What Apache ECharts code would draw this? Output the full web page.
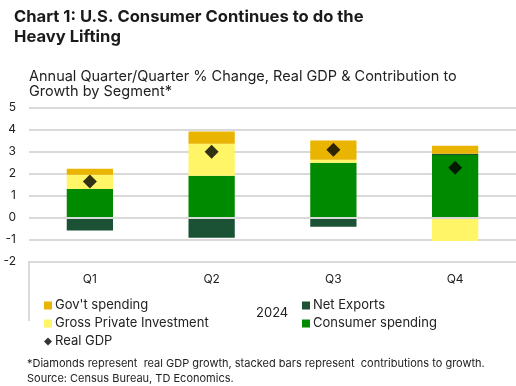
<!DOCTYPE html>
<html>
<head>
<meta charset="utf-8">
<script src="https://cdn.jsdelivr.net/npm/echarts@6/dist/echarts.min.js"></script>
<style>html,body{margin:0;padding:0;background:#fff;}#c{width:516px;height:386px;}</style>
</head>
<body>
<div id="c"></div>
<script>
const categories = ['Q1', 'Q2', 'Q3', 'Q4'];
const consumer = [1.30, 1.90, 2.49, 2.84];
const grossPrivate = [0.64, 1.45, 0.13, -1.06];
const netExports = [-0.59, -0.91, -0.42, 0.05];
const govSpending = [0.27, 0.55, 0.87, 0.37];
const realGDP = [1.64, 2.99, 3.08, 2.26];
const yTicks = { min: -2, max: 5, interval: 1 };

const FONT = 'Inter';
const chart = echarts.init(document.getElementById('c'), null, { renderer: 'canvas' });
const barCommon = { type: 'bar', stack: 'total', barWidth: '38%', stackStrategy: 'samesign' };
chart.setOption({
  animation: false,
  textStyle: { fontFamily: FONT },
  title: [
    { text: 'Chart 1: U.S. Consumer Continues to do the\nHeavy Lifting', left: 14, top: 7, padding: 0,
      textStyle: { fontFamily: FONT, fontSize: 16.6, fontWeight: 'bold', color: '#1a1a1a', lineHeight: 20 } },
    { text: 'Annual Quarter/Quarter % Change, Real GDP & Contribution to\nGrowth by Segment*', left: 29, top: 69, padding: 0,
      textStyle: { fontFamily: FONT, fontSize: 14.5, fontWeight: 'normal', color: '#222', lineHeight: 15 } },
    { text: '*Diamonds represent  real GDP growth, stacked bars represent  contributions to growth.\nSource: Census Bureau, TD Economics.', left: 27, top: 356, padding: 0,
      textStyle: { fontFamily: FONT, fontSize: 11, fontWeight: 'normal', color: '#222', lineHeight: 15 } }
  ],
  grid: { left: 29, right: 0, top: 107.3, bottom: 124.3, containLabel: false },
  xAxis: {
    type: 'category', data: categories,
    axisLine: { onZero: false, lineStyle: { color: '#d9d9d9', width: 2 } },
    axisTick: { show: false },
    axisLabel: { color: '#222', fontSize: 12, fontFamily: FONT, margin: 12 }
  },
  yAxis: {
    type: 'value', min: yTicks.min, max: yTicks.max, interval: yTicks.interval,
    axisLine: { show: false }, axisTick: { show: false },
    axisLabel: { color: '#222', fontSize: 12, fontFamily: FONT, margin: 13 },
    splitLine: { lineStyle: { color: '#d9d9d9', width: 2 } }
  },
  legend: [
    { left: 44, top: 298.5, padding: 0, orient: 'vertical', itemWidth: 8, itemHeight: 8, itemGap: 4,
      textStyle: { fontSize: 13, color: '#222', fontFamily: FONT, lineHeight: 14, padding: [0, 0, 0, -2] },
      data: [{ name: "Gov't spending", icon: 'rect' }, { name: 'Gross Private Investment', icon: 'rect' }, { name: 'Real GDP', icon: 'diamond' }] },
    { left: 302, top: 298.5, padding: 0, orient: 'vertical', itemWidth: 8, itemHeight: 8, itemGap: 4,
      textStyle: { fontSize: 13, color: '#222', fontFamily: FONT, lineHeight: 14, padding: [0, 0, 0, -2] },
      data: [{ name: 'Net Exports', icon: 'rect' }, { name: 'Consumer spending', icon: 'rect' }] }
  ],
  graphic: [
    { type: 'line', shape: { x1: 29, y1: 261, x2: 29, y2: 321 }, style: { stroke: '#d9d9d9', lineWidth: 2 }, silent: true },
    { type: 'text', left: 256, top: 307, style: { text: '2024', font: '13px ' + FONT, fill: '#222' }, silent: true }
  ],
  series: [
    Object.assign({ name: 'Consumer spending', data: consumer, itemStyle: { color: '#008a00' },
      markLine: { silent: true, symbol: 'none', label: { show: false },
        lineStyle: { color: '#d9d9d9', width: 2, type: 'solid' }, data: [{ yAxis: 0 }] } }, barCommon),
    Object.assign({ name: 'Gross Private Investment', data: grossPrivate, itemStyle: { color: '#fff566' } }, barCommon),
    Object.assign({ name: 'Net Exports', data: netExports, itemStyle: { color: '#1b5236' } }, barCommon),
    Object.assign({ name: "Gov't spending", data: govSpending, itemStyle: { color: '#e9b500' } }, barCommon),
    { name: 'Real GDP', type: 'scatter', data: realGDP, symbol: 'diamond', symbolSize: 14, itemStyle: { color: '#000' }, z: 5 }
  ]
});
</script>
</body>
</html>
